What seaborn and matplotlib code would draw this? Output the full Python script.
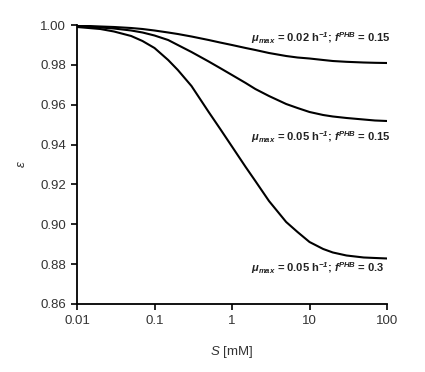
import numpy as np
import pandas as pd
import matplotlib
matplotlib.use("Agg")
import matplotlib.pyplot as plt
import seaborn as sns

# Data
S = [0.01, 0.02, 0.03, 0.05, 0.07, 0.1, 0.15, 0.2, 0.3, 0.5, 0.7, 1,
     1.5, 2, 3, 5, 7, 10, 15, 20, 30, 50, 70, 100]
eps_002_015 = [0.99975, 0.99925, 0.99900, 0.99849, 0.99799, 0.99724, 0.99624, 0.99548,
               0.99423, 0.99247, 0.99122, 0.98996, 0.98846, 0.98746, 0.98595, 0.98444,
               0.98369, 0.98319, 0.98244, 0.98193, 0.98153, 0.98118, 0.98103, 0.98093]
eps_005_015 = [0.99950, 0.99875, 0.99824, 0.99724, 0.99624, 0.99473, 0.99247, 0.98996,
               0.98645, 0.98169, 0.97842, 0.97491, 0.97090, 0.96789, 0.96437, 0.96036,
               0.95835, 0.95635, 0.95484, 0.95409, 0.95334, 0.95258, 0.95208, 0.95183]
eps_005_030 = [0.99900, 0.99799, 0.99674, 0.99448, 0.99197, 0.98846, 0.98244, 0.97742,
               0.96939, 0.95635, 0.94800, 0.93900, 0.92875, 0.92173, 0.91169, 0.90115,
               0.89614, 0.89112, 0.88761, 0.88585, 0.88434, 0.88334, 0.88309, 0.88284]
series_labels = [
    r"$\mathbf{\mu_{max}}$ = 0.02 h$^{\mathbf{-1}}$; $\mathbf{f^{PHB}}$ = 0.15",
    r"$\mathbf{\mu_{max}}$ = 0.05 h$^{\mathbf{-1}}$; $\mathbf{f^{PHB}}$ = 0.15",
    r"$\mathbf{\mu_{max}}$ = 0.05 h$^{\mathbf{-1}}$; $\mathbf{f^{PHB}}$ = 0.3",
]
y_ticks = [0.86, 0.88, 0.90, 0.92, 0.94, 0.96, 0.98, 1.00]
x_ticks = [0.01, 0.1, 1, 10, 100]
x_ticklabels = ["0.01", "0.1", "1", "10", "100"]

sns.set_style("ticks")
plt.rcParams["font.family"] = ["Liberation Sans", "DejaVu Sans"]
plt.rcParams["mathtext.fontset"] = "custom"
plt.rcParams["mathtext.rm"] = "Liberation Sans"
plt.rcParams["mathtext.it"] = "Liberation Sans:italic"
plt.rcParams["mathtext.bf"] = "Liberation Sans:bold:italic"

n = len(S)
df = pd.DataFrame({
    "S": S * 3,
    "eps": eps_002_015 + eps_005_015 + eps_005_030,
    "series": [series_labels[0]] * n + [series_labels[1]] * n + [series_labels[2]] * n,
})

fig = plt.figure(figsize=(4.25, 3.72), dpi=100)
ax = fig.add_axes([77 / 425, 1 - 304 / 372, 310 / 425, 279 / 372])
sns.lineplot(data=df, x="S", y="eps", hue="series", palette=["black"] * 3,
             legend=False, linewidth=1.5, ax=ax)
ax.set_xscale("log")
ax.set_xlim(0.01, 100)
ax.set_ylim(0.86, 1.00)
ax.set_xticks(x_ticks)
ax.set_xticklabels(x_ticklabels)
ax.xaxis.set_minor_locator(matplotlib.ticker.NullLocator())
ax.set_yticks(y_ticks)
ax.set_yticklabels([f"{v:.2f}" for v in y_ticks])
ax.tick_params(axis="both", direction="out", length=4, width=1.2, labelsize=9.5,
               labelcolor="#333333", color="black", pad=4)
for side in ["top", "right"]:
    ax.spines[side].set_visible(False)
for side in ["left", "bottom"]:
    ax.spines[side].set_linewidth(1.3)
    ax.spines[side].set_color("black")

ax.set_xlabel(r"$S$ [mM]", fontsize=9.5, color="#333333", labelpad=12)
ax.set_ylabel(r"$\epsilon$", fontsize=9.5, color="#333333", labelpad=9)

label_y = [0.953, 0.599, 0.129]
for lab, yy in zip(series_labels, label_y):
    ax.text(0.561, yy, lab, transform=ax.transAxes, ha="left", va="center",
            fontsize=8, fontweight="bold", color="#222222")

fig.savefig("out.png", dpi=100)
